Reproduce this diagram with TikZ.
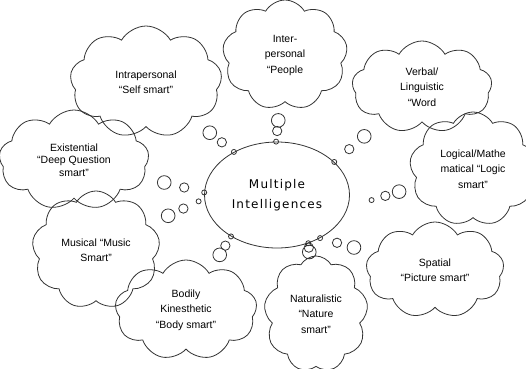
\documentclass[tikz,border=0pt]{standalone}
\usepackage{fontspec}
\setmainfont{Liberation Sans}
\newfontfamily\mifont[LetterSpace=10]{DejaVu Sans}
\usetikzlibrary{shapes.geometric,shapes.callouts}

\begin{document}
\begin{tikzpicture}[x=1pt,y=-1pt,
        hub/.style={ellipse,draw=black!80,line width=.8pt,align=center,
            minimum width=145pt,minimum height=106pt,
            font=\mifont\fontsize{12}{20}\selectfont},
        thought/.style={cloud callout,draw=black!80,line width=.8pt,
            cloud puffs=9,cloud puff arc=120,cloud ignores aspect,
            callout pointer segments=3,
            callout pointer start size=24pt and 18pt,
            callout pointer end size=7pt and 5pt,
            inner sep=0pt,align=center,
            font=\fontsize{10.5}{15.5}\selectfont}]

    \useasboundingbox (0,0) rectangle (526,368);

    \node[hub] (mi) at (277,195) {Multiple\\Intelligences};

    % thought clouds round the hub
    \node[thought,minimum width=152pt,minimum height=112pt,
        callout absolute pointer={(mi.135)}] (intra) at (146,82)
        {Intrapersonal\\“Self smart"};
    \node[thought,minimum width=150pt,minimum height=100pt,
        font=\fontsize{10.5}{12.5}\selectfont,
        callout absolute pointer={(mi.178)}] (exist) at (74,160)
        {Existential\\“Deep Question\\smart”};
    \node[thought,minimum width=125pt,minimum height=110pt,
        callout absolute pointer={(mi.91)}] (inter) at (285,55)
        {Inter-\\personal\\“People};
    \node[thought,minimum width=140pt,minimum height=92pt,
        callout absolute pointer={(mi.30)}] (verbal) at (422,87)
        {Verbal/\\Linguistic\\“Word};
    \node[thought,minimum width=127pt,minimum height=114pt,
        callout absolute pointer={([xshift=22pt]mi.-4)}] (logic) at (473,169)
        {Logical/Mathe\\matical “Logic\\smart”};
    \node[thought,minimum width=138pt,minimum height=96pt,
        callout absolute pointer={(mi.-45)}] (spatial) at (435,270)
        {Spatial\\“Picture smart”};
    \node[thought,minimum width=104pt,minimum height=116pt,
        callout absolute pointer={(mi.-57)}] (nature) at (316,314)
        {Naturalistic\\“Nature\\smart”};
    \node[thought,minimum width=142pt,minimum height=100pt,
        callout absolute pointer={(mi.-138)}] (bodily) at (186,310)
        {Bodily\\Kinesthetic\\“Body smart”};
    \node[thought,minimum width=128pt,minimum height=118pt,
        callout absolute pointer={([xshift=-6pt]mi.185)}] (music) at (96,250)
        {Musical “Music\\Smart”};
\end{tikzpicture}
\end{document}
